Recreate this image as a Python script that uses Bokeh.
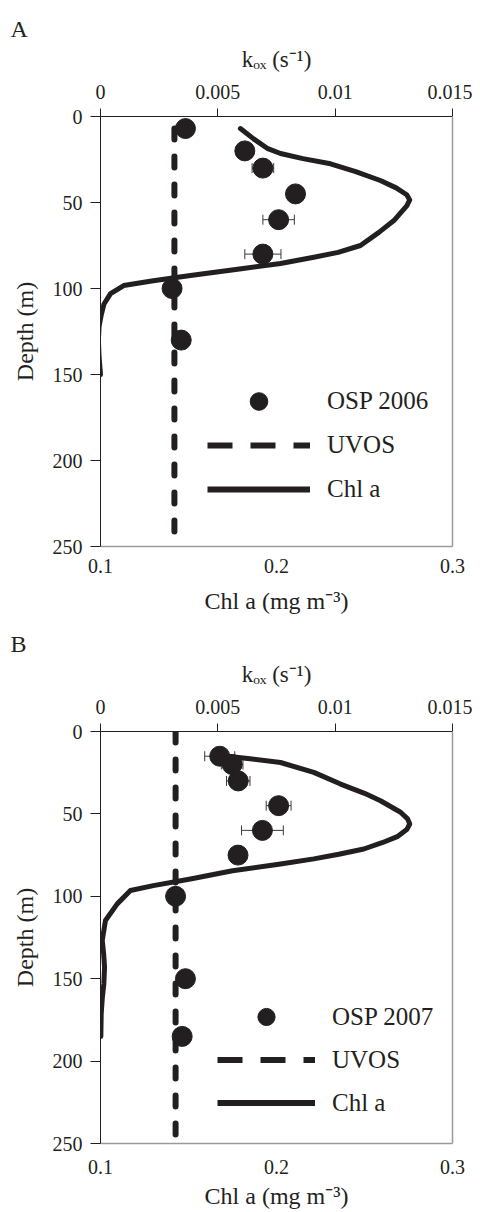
from bokeh.plotting import figure
from bokeh.layouts import column
from bokeh.models import (Range1d, LinearAxis, FixedTicker, ColumnDataSource,
                          Legend, LegendItem, Whisker, TeeHead)
from bokeh.embed import file_html
from bokeh.resources import INLINE

INK = "#231f20"
GRAY = "#9a9a9a"
FONT = "Liberation Serif"

# ---------------- data ----------------
depth_ticks = [0, 50, 100, 150, 200, 250]
chl_ticks = [0.1, 0.2, 0.3]
chl_tick_labels = ["0.1", "0.2", "0.3"]
kox_ticks = [0, 0.005, 0.01, 0.015]
kox_tick_labels = ["0", "0.005", "0.01", "0.015"]

# Panel A (OSP 2006)
a_depth = [7, 20, 30, 45, 60, 80, 100, 130]
a_kox = [0.00362, 0.00615, 0.00692, 0.00831, 0.00759, 0.00692, 0.00305, 0.00344]
a_kerr = [0.0, 0.0, 0.00046, 0.0, 0.00067, 0.00077, 0.0, 0.0003]
a_uvos = 0.00315
a_uvos_depth = [7, 250]
a_chl_depth = [7, 13, 18.5, 21.5, 24.5, 27.5, 32, 37.2, 41.5, 45.5, 48.5, 52, 60.5,
               67.5, 75, 79, 81.8, 85.5, 88.5, 92.5, 95.5, 98.3, 103, 109, 115,
               122, 130, 140, 150]
a_chl = [0.1795, 0.1870, 0.1947, 0.2023, 0.2150, 0.2307, 0.2450, 0.2590, 0.2680,
         0.2740, 0.2757, 0.2740, 0.2667, 0.2580, 0.2477, 0.2350, 0.2212, 0.2023,
         0.1800, 0.1511, 0.1300, 0.1132, 0.1057, 0.1020, 0.1005, 0.0992, 0.0988,
         0.0992, 0.1000]

# Panel B (OSP 2007)
b_depth = [15, 20, 30, 45, 60, 75, 100, 150, 185]
b_kox = [0.00508, 0.00561, 0.00587, 0.00759, 0.00690, 0.00586, 0.00320, 0.00362, 0.00348]
b_kerr = [0.00064, 0.00046, 0.00050, 0.00053, 0.00089, 0.0, 0.0, 0.0, 0.0]
b_uvos = 0.0032
b_uvos_depth = [0, 262]
b_chl_depth = [15, 16.5, 18.8, 24.8, 31.9, 37.5, 42, 49, 53, 56.1, 59.5, 63.8, 67.5,
               71.3, 74.5, 77.3, 80.4, 84.5, 89.5, 93.5, 96.5, 104.6, 114.7, 126.8,
               135, 143, 153, 162, 171.3, 185]
b_chl = [0.1720, 0.1850, 0.2023, 0.2212, 0.2364, 0.2500, 0.2591, 0.2705, 0.2745,
         0.2757, 0.2740, 0.2686, 0.2600, 0.2496, 0.2354, 0.2212, 0.2023, 0.1750,
         0.1511, 0.1300, 0.1170, 0.1095, 0.1028, 0.1010, 0.1018, 0.1023, 0.1019,
         0.1010, 0.1004, 0.1002]


def make_panel(letter, legend_label, depth, kox, kerr, uvos, uvos_depth,
               chl_depth, chl, frame_h, border_top, border_bottom,
               bottom_standoff, top_standoff, xlabel_standoff,
               legend_loc, legend_gw, legend_gh):
    p = figure(frame_width=352, frame_height=frame_h,
               x_range=Range1d(0.1, 0.3), y_range=Range1d(250, 0),
               output_backend="svg", toolbar_location=None,
               min_border_left=100, min_border_right=20,
               min_border_top=border_top, min_border_bottom=border_bottom)
    p.outline_line_color = None
    p.grid.visible = False
    p.background_fill_color = "white"
    p.border_fill_color = "white"
    p.extra_x_ranges = {"k": Range1d(0, 0.015)}
    # an off-screen range used only by the legend's sample renderers
    p.extra_y_ranges = {"legend_only": Range1d(-2000, -1000)}

    # panel letter
    p.title.text = letter
    p.title.align = "left"
    p.title.offset = -90
    p.title.text_font = FONT
    p.title.text_font_size = "24px"
    p.title.text_font_style = "normal"
    p.title.text_color = INK
    p.title.standoff = 4

    # bottom axis (Chl a)
    xa = p.xaxis[0]
    xa.ticker = FixedTicker(ticks=chl_ticks)
    xa.major_label_overrides = dict(zip(chl_ticks, chl_tick_labels))
    xa.axis_line_color = GRAY
    xa.axis_line_width = 1.5
    xa.major_tick_out = 0
    xa.major_tick_in = 0
    xa.minor_tick_line_color = None
    xa.major_label_standoff = bottom_standoff
    xa.major_label_text_font = FONT
    xa.major_label_text_font_size = "20px"
    xa.major_label_text_color = INK
    xa.axis_label = "Chl a (mg m\u207b\u00b3)"
    xa.axis_label_text_font = FONT
    xa.axis_label_text_font_size = "24px"
    xa.axis_label_text_font_style = "normal"
    xa.axis_label_text_color = INK
    xa.axis_label_standoff = xlabel_standoff

    # left axis (Depth)
    ya = p.yaxis[0]
    ya.ticker = FixedTicker(ticks=depth_ticks)
    ya.axis_line_color = INK
    ya.axis_line_width = 1
    ya.major_tick_out = 10
    ya.major_tick_in = 0
    ya.major_tick_line_color = INK
    ya.minor_tick_line_color = None
    ya.major_label_standoff = 8
    ya.major_label_text_font = FONT
    ya.major_label_text_font_size = "20px"
    ya.major_label_text_color = INK
    ya.axis_label = "Depth (m)"
    ya.axis_label_text_font = FONT
    ya.axis_label_text_font_size = "24px"
    ya.axis_label_text_font_style = "normal"
    ya.axis_label_text_color = INK
    ya.axis_label_standoff = 12

    # top axis (k_ox)
    ta = LinearAxis(x_range_name="k", ticker=FixedTicker(ticks=kox_ticks),
                    major_label_overrides=dict(zip(kox_ticks, kox_tick_labels)))
    ta.axis_line_color = INK
    ta.axis_line_width = 1
    ta.major_tick_out = 8
    ta.major_tick_in = 0
    ta.major_tick_line_color = INK
    ta.minor_tick_line_color = None
    ta.major_label_standoff = top_standoff
    ta.major_label_text_font = FONT
    ta.major_label_text_font_size = "20px"
    ta.major_label_text_color = INK
    ta.axis_label = "k\u2092\u2093 (s\u207b\u00b9)"
    ta.axis_label_text_font = FONT
    ta.axis_label_text_font_size = "23px"
    ta.axis_label_text_font_style = "normal"
    ta.axis_label_text_color = INK
    ta.axis_label_standoff = 10
    p.add_layout(ta, "above")

    # right border
    ra = LinearAxis(ticker=FixedTicker(ticks=[]))
    ra.axis_line_color = GRAY
    ra.axis_line_width = 1.5
    ra.major_tick_out = 0
    ra.major_tick_in = 0
    ra.minor_tick_line_color = None
    ra.major_label_text_font_size = "0px"
    ra.major_label_standoff = 0
    p.add_layout(ra, "right")

    # data
    p.line(x=chl, y=chl_depth, line_color=INK, line_width=5,
           line_join="round", line_cap="round")
    p.line(x=[uvos, uvos], y=uvos_depth, x_range_name="k", line_color=INK,
           line_width=6, line_dash="11 17", line_cap="round")

    lo = [k - e for k, e in zip(kox, kerr)]
    hi = [k + e for k, e in zip(kox, kerr)]
    keep = [i for i, e in enumerate(kerr) if e > 0]
    wsrc = ColumnDataSource(dict(depth=[depth[i] for i in keep],
                                 lo=[lo[i] for i in keep],
                                 hi=[hi[i] for i in keep]))
    w = Whisker(source=wsrc, base="depth", lower="lo", upper="hi",
                dimension="width", x_range_name="k",
                line_color="#3a3a3a", line_width=1,
                upper_head=TeeHead(size=10, line_color="#3a3a3a", line_width=1),
                lower_head=TeeHead(size=10, line_color="#3a3a3a", line_width=1))
    p.add_layout(w)

    src = ColumnDataSource(dict(depth=depth, kox=kox))
    r_dot = p.scatter(x="kox", y="depth", source=src, x_range_name="k",
                      size=20, fill_color=INK, line_color=INK)

    # legend sample renderers: same data, drawn on an off-screen range
    r_dash = p.line(x=[uvos, uvos], y=uvos_depth, x_range_name="k",
                    y_range_name="legend_only", line_color=INK, line_width=6,
                    line_dash="25 18", line_cap="butt")
    r_solid = p.line(x=chl, y=chl_depth, y_range_name="legend_only",
                     line_color=INK, line_width=6, line_cap="butt")
    leg = Legend(items=[LegendItem(label=legend_label, renderers=[r_dot], index=0),
                        LegendItem(label="UVOS", renderers=[r_dash]),
                        LegendItem(label="Chl a", renderers=[r_solid])],
                 location=legend_loc, orientation="vertical",
                 glyph_width=legend_gw, glyph_height=legend_gh, spacing=0,
                 label_standoff=17, padding=0, margin=0,
                 border_line_color=None, background_fill_alpha=0,
                 label_text_font=FONT, label_text_font_size="25px",
                 label_text_color=INK)
    p.add_layout(leg)
    return p


pa = make_panel("A", "OSP 2006", a_depth, a_kox, a_kerr, a_uvos, a_uvos_depth,
                a_chl_depth, a_chl, frame_h=430, border_top=116, border_bottom=74,
                bottom_standoff=12, top_standoff=10, xlabel_standoff=12,
                legend_loc=(107, 35), legend_gw=103, legend_gh=44)
pb = make_panel("B", "OSP 2007", b_depth, b_kox, b_kerr, b_uvos, b_uvos_depth,
                b_chl_depth, b_chl, frame_h=412, border_top=111, border_bottom=68,
                bottom_standoff=16, top_standoff=10, xlabel_standoff=6,
                legend_loc=(117, 19), legend_gw=98, legend_gh=43)

layout = column(pa, pb, spacing=0)
open("out.html", "w").write(file_html(layout, INLINE))
